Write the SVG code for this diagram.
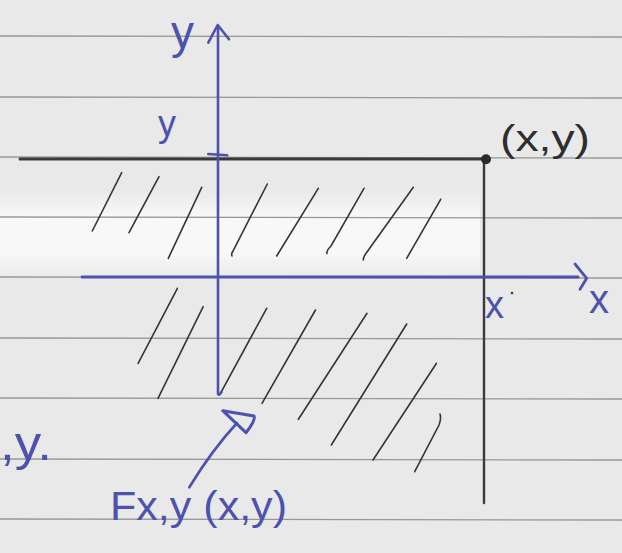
<svg xmlns="http://www.w3.org/2000/svg" width="622" height="553" viewBox="0 0 622 553">
<defs>
<linearGradient id="band" x1="0" y1="0" x2="0" y2="1">
<stop offset="0" stop-color="#f8f8f8" stop-opacity="0"/>
<stop offset="0.3" stop-color="#f8f8f8"/>
<stop offset="0.7" stop-color="#f8f8f8"/>
<stop offset="1" stop-color="#f8f8f8" stop-opacity="0"/>
</linearGradient>
<style>
.rule{stroke:#979797;stroke-width:1.3;fill:none}
.hatch{stroke:#353535;stroke-width:1.6;fill:none;stroke-linecap:round}
.blue{stroke:#4c52ad;fill:none;stroke-linecap:round;stroke-linejoin:round}
.bt{fill:#4c52ad;font-family:"Liberation Sans",Arial,sans-serif}
.kt{fill:#2e2e2e;font-family:"Liberation Sans",Arial,sans-serif}
.ink{stroke:#3a3a3a;fill:none;stroke-linecap:round}
</style>
</defs>
<g id="paper">
<rect x="0" y="0" width="622" height="553" fill="#e9e9e9"/>
<rect x="0" y="190" width="480" height="90" fill="url(#band)"/>
</g>
<g id="ruling">
<line class="rule" x1="0" y1="36" x2="622" y2="37"/>
<line class="rule" x1="0" y1="97" x2="622" y2="98"/>
<line class="rule" x1="0" y1="157" x2="622" y2="158"/>
<line class="rule" x1="0" y1="217" x2="622" y2="218"/>
<line class="rule" x1="0" y1="277" x2="622" y2="278"/>
<line class="rule" x1="0" y1="338" x2="622" y2="339"/>
<line class="rule" x1="0" y1="398" x2="622" y2="399"/>
<line class="rule" x1="0" y1="459" x2="622" y2="460"/>
<line class="rule" x1="0" y1="519" x2="622" y2="520"/>
</g>
<g id="hatching">
<line class="hatch" x1="121.7" y1="172.7" x2="92.3" y2="231"/>
<line class="hatch" x1="159" y1="176.7" x2="129" y2="232.7"/>
<line class="hatch" x1="201.7" y1="187.3" x2="168.3" y2="258.3"/>
<path class="hatch" d="M267.3,184 L233,251 Q231,254 232,256"/>
<line class="hatch" x1="318.3" y1="188.3" x2="276.7" y2="256"/>
<path class="hatch" d="M364,188.3 L331,246 Q326,251 327,253.5"/>
<path class="hatch" d="M413.3,187.3 L367,252 Q363,257 363.3,260"/>
<line class="hatch" x1="440.7" y1="199.3" x2="406.7" y2="258.3"/>
<line class="hatch" x1="177.4" y1="288.3" x2="138.1" y2="363.3"/>
<line class="hatch" x1="203.2" y1="306.7" x2="158" y2="398.3"/>
<line class="hatch" x1="266.7" y1="308.3" x2="221.4" y2="391.7"/>
<line class="hatch" x1="315.5" y1="310" x2="262" y2="403.3"/>
<line class="hatch" x1="367" y1="313.3" x2="298.4" y2="419.3"/>
<line class="hatch" x1="406.7" y1="324" x2="331.3" y2="445"/>
<line class="hatch" x1="436.5" y1="363.3" x2="373" y2="460"/>
<path class="hatch" d="M440,414 Q441.5,418 439,425 L414.7,471.7"/>
</g>
<g id="bound">
<line class="ink" x1="20" y1="159" x2="486" y2="159" stroke-width="3"/>
<line class="ink" x1="484" y1="159" x2="484" y2="503" stroke-width="2.4"/>
<circle id="corner" cx="486" cy="159.3" r="5" fill="#2a2a2a"/>
<text class="kt" x="500" y="151" font-size="36" textLength="90" lengthAdjust="spacingAndGlyphs">(x,y)</text>
</g>
<g id="axes">
<line class="blue" x1="82" y1="277" x2="578" y2="277" stroke-width="3"/>
<path class="blue" d="M575,264 L586.7,278.3 L580,289.3" stroke-width="2.8"/>
<path class="blue" d="M218,26 L218,394 Q219,396 221.5,392" stroke-width="2.6"/>
<path class="blue" d="M208.3,42.7 L217.7,25 L229,39.3" stroke-width="2.6"/>
<line class="blue" x1="208.3" y1="154" x2="227.3" y2="155.3" stroke-width="2.6"/>
</g>
<g id="labels">
<text class="bt" x="171" y="48" font-size="46">y</text>
<text class="bt" x="158" y="136" font-size="36">y</text>
<text class="bt" x="589" y="313" font-size="40">x</text>
<text class="bt" x="485" y="318" font-size="38">x</text>
<circle cx="512" cy="293" r="1.3" fill="#3a3a3a"/>
<text class="bt" x="0" y="460" font-size="48" textLength="52" lengthAdjust="spacingAndGlyphs">,y.</text>
</g>
<g id="connectors">
<path class="blue" d="M189.3,487.3 Q212,450 237,423" stroke-width="2.6"/>
<path class="blue" d="M222.7,410.7 L254,416 Q256,420 246,432.7 Z" stroke-width="3"/>
</g>
<g id="fxy">
<text class="bt" x="110" y="520" font-size="40" textLength="177" lengthAdjust="spacingAndGlyphs">Fx,y (x,y)</text>
</g>
</svg>
